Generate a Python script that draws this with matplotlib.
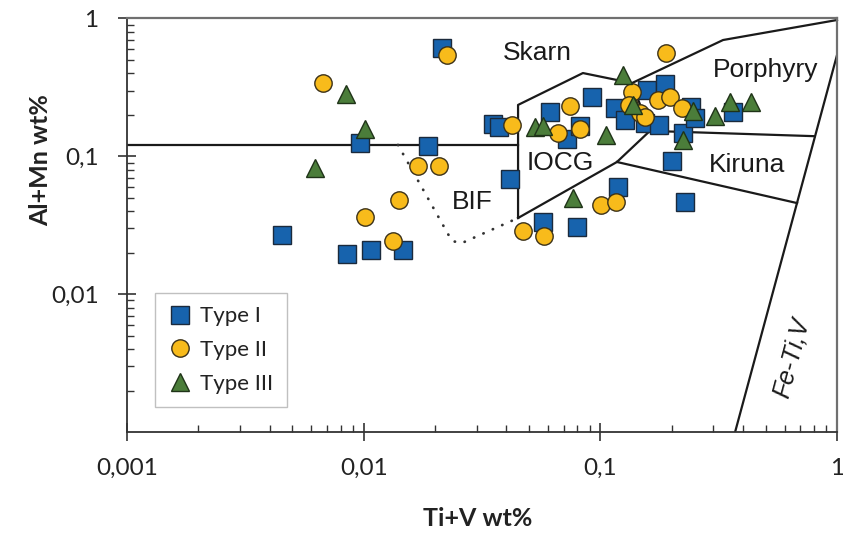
import matplotlib
matplotlib.use("Agg")
import matplotlib.pyplot as plt
from matplotlib.ticker import FixedLocator, FixedFormatter, LogLocator, NullFormatter

# ---------------- data ----------------
type1_x = [0.0214, 0.0096, 0.0187, 0.0045, 0.0085, 0.0107, 0.0147, 0.0351, 0.0374,
           0.0415, 0.057, 0.080, 0.061, 0.072, 0.082, 0.0926, 0.115, 0.127, 0.157,
           0.188, 0.154, 0.177, 0.223, 0.241, 0.251, 0.364, 0.200, 0.228, 0.119]
type1_y = [0.61, 0.125, 0.118, 0.027, 0.0195, 0.021, 0.021, 0.172, 0.162,
           0.069, 0.0334, 0.0307, 0.208, 0.134, 0.166, 0.271, 0.223, 0.183, 0.303,
           0.335, 0.174, 0.170, 0.147, 0.229, 0.189, 0.210, 0.0924, 0.0468, 0.060]

type2_x = [0.0224, 0.00675, 0.0170, 0.0209, 0.0141, 0.0101, 0.0133, 0.0422, 0.0744,
           0.0664, 0.0818, 0.136, 0.132, 0.147, 0.154, 0.176, 0.196, 0.222, 0.101,
           0.117, 0.0472, 0.0578, 0.189]
type2_y = [0.543, 0.339, 0.0846, 0.0846, 0.0482, 0.0365, 0.0242, 0.170, 0.232,
           0.147, 0.158, 0.294, 0.236, 0.205, 0.194, 0.258, 0.268, 0.223, 0.0443,
           0.0468, 0.0289, 0.0264, 0.562]

type3_x = [0.0084, 0.0101, 0.0062, 0.0529, 0.0571, 0.106, 0.0768, 0.125, 0.138,
           0.247, 0.305, 0.353, 0.433, 0.223]
type3_y = [0.282, 0.157, 0.0818, 0.164, 0.166, 0.144, 0.0498, 0.387, 0.236,
           0.213, 0.196, 0.249, 0.248, 0.131]

series_labels = ["Type I", "Type II", "Type III"]

# field boundaries (x, y vertices)
hline_x = [0.001, 0.0449]
hline_y = [0.121, 0.121]
iocg_x = [0.0449, 0.0449, 0.0844, 0.136, 0.162, 0.1175, 0.0449]
iocg_y = [0.0357, 0.236, 0.402, 0.340, 0.153, 0.091, 0.0357]
porph_top_x = [0.136, 0.330, 1.0]
porph_top_y = [0.340, 0.698, 0.975]
porph_kir_x = [0.162, 0.806]
porph_kir_y = [0.153, 0.140]
kir_bot_x = [0.1175, 0.678]
kir_bot_y = [0.091, 0.0458]
feti_x = [0.371, 1.0]
feti_y = [0.001, 0.543]
bif_x = [0.01396, 0.0236, 0.0260, 0.0449]
bif_y = [0.121, 0.0243, 0.0235, 0.0357]

field_names = ["Skarn", "Porphyry", "IOCG", "Kiruna", "BIF"]
field_pos_x = [0.0540, 0.500, 0.0675, 0.416, 0.0287]
field_pos_y = [0.562, 0.423, 0.0894, 0.0865, 0.0466]
feti_label = "Fe-Ti,V"

x_tick_values = [0.001, 0.01, 0.1, 1]
x_tick_labels = ["0,001", "0,01", "0,1", "1"]
y_tick_values = [0.01, 0.1, 1]
y_tick_labels = ["0,01", "0,1", "1"]

# ---------------- figure ----------------
fig = plt.figure(figsize=(8.43, 5.36), dpi=100)
ax = fig.add_axes([0.1507, 0.194, 0.8422, 0.7715])
ax.set_xscale("log")
ax.set_yscale("log")
ax.set_xlim(0.001, 1)
ax.set_ylim(0.001, 1)

lw = 1.6
lc = "#1a1a1a"
ax.plot(hline_x, hline_y, color=lc, lw=lw, zorder=2)
ax.plot(iocg_x, iocg_y, color=lc, lw=lw, zorder=2)
ax.plot(porph_top_x, porph_top_y, color=lc, lw=lw, zorder=2, clip_on=False)
ax.plot(porph_kir_x, porph_kir_y, color=lc, lw=lw, zorder=2)
ax.plot(kir_bot_x, kir_bot_y, color=lc, lw=lw, zorder=2)
ax.plot(feti_x, feti_y, color=lc, lw=lw, zorder=2)
ax.plot(bif_x, bif_y, color="#333333", lw=2.0, linestyle=(0, (0.1, 3.6)),
        dash_capstyle="round", zorder=2)

ms = 12.5
ax.plot(type1_x, type1_y, ls="none", marker="s", ms=ms, mfc="#1763ad",
        mec="#1b2a3c", mew=1.0, zorder=3, label=series_labels[0])
ax.plot(type2_x, type2_y, ls="none", marker="o", ms=ms, mfc="#f8bb1b",
        mec="#3b3118", mew=1.0, zorder=4, label=series_labels[1])
ax.plot(type3_x, type3_y, ls="none", marker="^", ms=ms + 0.8, mfc="#4b7d3a",
        mec="#1f3318", mew=1.0, zorder=5, label=series_labels[2])

for name, fx, fy in zip(field_names, field_pos_x, field_pos_y):
    ax.text(fx, fy, name, ha="center", va="center", fontsize=19,
            family="Liberation Sans", color="#1a1a1a", zorder=6)
ax.text(0.645, 0.00344, feti_label, ha="center", va="center", fontsize=18,
        family="Liberation Sans", style="italic", rotation=75, color="#1a1a1a", zorder=6)

# ticks
ax.xaxis.set_major_locator(FixedLocator(x_tick_values))
ax.xaxis.set_major_formatter(FixedFormatter(x_tick_labels))
ax.yaxis.set_major_locator(FixedLocator(y_tick_values))
ax.yaxis.set_major_formatter(FixedFormatter(y_tick_labels))
ax.xaxis.set_minor_locator(LogLocator(base=10, subs=range(2, 10)))
ax.yaxis.set_minor_locator(LogLocator(base=10, subs=range(2, 10)))
ax.xaxis.set_minor_formatter(NullFormatter())
ax.yaxis.set_minor_formatter(NullFormatter())
ax.tick_params(which="major", direction="inout", length=13, width=1.2, color="#333333")
ax.tick_params(which="minor", direction="in", length=5, width=1.0, color="#333333")
ax.tick_params(axis="x", which="major", pad=12)
ax.tick_params(axis="y", which="major", pad=14)
for lab in ax.get_xticklabels() + ax.get_yticklabels():
    lab.set_family("Lato")
    lab.set_fontsize(17.5)
    lab.set_color("#222222")

for s in ["left", "bottom"]:
    ax.spines[s].set_color("#333333")
    ax.spines[s].set_linewidth(1.3)
for s in ["top", "right"]:
    ax.spines[s].set_color("#707070")
    ax.spines[s].set_linewidth(1.6)

ax.set_xlabel("Ti+V wt%", fontsize=18, family="Lato", fontweight="bold", color="#222222")
ax.set_ylabel("Al+Mn wt%", fontsize=18, family="Lato", fontweight="bold", color="#222222")
ax.xaxis.set_label_coords(0.494, -0.182)
ax.yaxis.set_label_coords(-0.106, 0.658)

leg = ax.legend(loc="lower left", bbox_to_anchor=(0.039, 0.060), frameon=True,
                fancybox=False, edgecolor="#c0c0c0", framealpha=1,
                prop={"family": "Lato", "size": 16}, handletextpad=0.35,
                labelspacing=0.62, borderpad=0.6, handlelength=1.1, borderaxespad=0)
leg.get_frame().set_linewidth(1.0)
for t in leg.get_texts():
    t.set_color("#222222")

fig.savefig("out.png", dpi=100)
